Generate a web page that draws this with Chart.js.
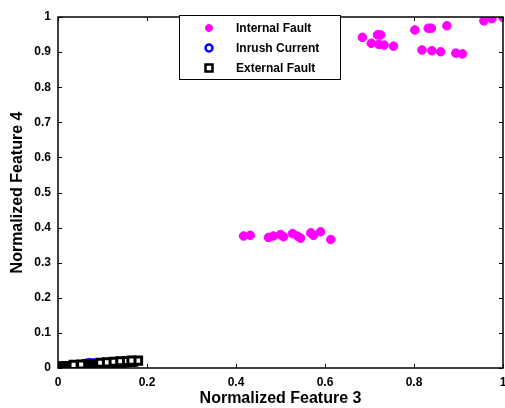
<!DOCTYPE html>
<html>
<head>
<meta charset="utf-8">
<script src="https://cdn.jsdelivr.net/npm/chart.js@4.4.1/dist/chart.umd.min.js"></script>
<style>
  html, body { margin: 0; padding: 0; background: #fff; }
  #wrap { width: 505px; height: 408px; }
</style>
</head>
<body>
<div id="wrap"><canvas id="scatterChart" width="505" height="408"></canvas></div>
<script>
// Series values
const internalX = [0.417, 0.432, 0.473, 0.484, 0.50, 0.507, 0.527, 0.538, 0.545, 0.568, 0.574, 0.59, 0.613,
    0.684, 0.704, 0.718, 0.721, 0.725, 0.733, 0.754, 0.802, 0.818, 0.832, 0.839, 0.840, 0.860, 0.874, 0.894, 0.909, 0.957, 0.975, 1.0];
const internalY = [0.376, 0.378, 0.372, 0.376, 0.380, 0.374, 0.383, 0.376, 0.370, 0.385, 0.378, 0.388, 0.366,
    0.942, 0.925, 0.949, 0.922, 0.949, 0.920, 0.917, 0.963, 0.906, 0.968, 0.968, 0.904, 0.901, 0.975, 0.897, 0.895, 0.989, 0.995, 0.999];

const inrushX = [0.0, 0.004, 0.022, 0.03, 0.045, 0.058, 0.066, 0.072, 0.08, 0.086];
const inrushY = [0.004, 0.005, 0.006, 0.006, 0.007, 0.012, 0.014, 0.015, 0.014, 0.013];

const externalX = [0.0, 0.004, 0.008, 0.012, 0.017, 0.022, 0.026, 0.031, 0.036, 0.04, 0.045, 0.05, 0.055, 0.06,
    0.064, 0.069, 0.074, 0.079, 0.084, 0.089, 0.094, 0.099, 0.104, 0.109, 0.114, 0.119, 0.124, 0.129,
    0.134, 0.139, 0.144, 0.149, 0.154, 0.159, 0.164, 0.169, 0.18,
    0.035, 0.052, 0.095, 0.11, 0.125, 0.14, 0.155, 0.165];
const externalY = [0.003, 0.004, 0.003, 0.004, 0.005, 0.004, 0.005, 0.005, 0.006, 0.005, 0.006, 0.007, 0.006, 0.007,
    0.008, 0.008, 0.009, 0.009, 0.010, 0.010, 0.011, 0.011, 0.012, 0.012, 0.013, 0.013, 0.014, 0.014,
    0.015, 0.015, 0.016, 0.016, 0.017, 0.017, 0.018, 0.018, 0.021,
    0.009, 0.010, 0.015, 0.016, 0.018, 0.019, 0.020, 0.021];

const xTicks = [0, 0.2, 0.4, 0.6, 0.8, 1];
const yTicks = [0, 0.1, 0.2, 0.3, 0.4, 0.5, 0.6, 0.7, 0.8, 0.9, 1];
const legendLabels = ['Internal Fault', 'Inrush Current', 'External Fault'];

const FONT = "'Liberation Sans', Arial, sans-serif";

function toPoints(xs, ys) {
    return xs.map((x, i) => ({ x: x, y: ys[i] }));
}

function tickText(v) {
    return String(+Number(v).toFixed(1));
}

// Frame, inward ticks and boxed legend drawn on top of the chart area
const framePlugin = {
    id: 'frame',
    afterDraw(chart) {
        const ctx = chart.ctx;
        const a = chart.chartArea;
        const xs = chart.scales.x;
        const ys = chart.scales.y;
        ctx.save();
        ctx.strokeStyle = '#000';
        ctx.lineWidth = 1.5;
        ctx.strokeRect(a.left, a.top, a.right - a.left, a.bottom - a.top);
        ctx.lineWidth = 1;
        xTicks.forEach(v => {
            const px = Math.round(xs.getPixelForValue(v)) + 0.5;
            ctx.beginPath();
            ctx.moveTo(px, a.bottom); ctx.lineTo(px, a.bottom - 4);
            ctx.moveTo(px, a.top); ctx.lineTo(px, a.top + 4);
            ctx.stroke();
        });
        yTicks.forEach(v => {
            const py = Math.round(ys.getPixelForValue(v)) + 0.5;
            ctx.beginPath();
            ctx.moveTo(a.left, py); ctx.lineTo(a.left + 4, py);
            ctx.moveTo(a.right, py); ctx.lineTo(a.right - 4, py);
            ctx.stroke();
        });

        // legend box
        const bx = 179, by = 15, bw = 161, bh = 64;
        ctx.fillStyle = '#fff';
        ctx.fillRect(bx, by, bw, bh);
        ctx.lineWidth = 1;
        ctx.strokeRect(bx + 0.5, by + 0.5, bw, bh);
        const rows = [28, 48, 68];
        ctx.font = 'bold 12px ' + FONT;
        ctx.textBaseline = 'middle';
        ctx.textAlign = 'left';
        chart.data.datasets.forEach((ds, i) => {
            const y = rows[i];
            const mx = 209;
            ctx.lineWidth = ds.pointStyle === 'rect' ? 2.5 : ds.borderWidth;
            ctx.strokeStyle = ds.borderColor;
            ctx.fillStyle = ds.backgroundColor;
            ctx.beginPath();
            if (ds.pointStyle === 'rect') {
                ctx.rect(mx - 3.5, y - 3.5, 7, 7);
            } else {
                ctx.arc(mx, y, 3.5, 0, Math.PI * 2);
            }
            ctx.fill();
            ctx.stroke();
            ctx.fillStyle = '#000';
            ctx.fillText(legendLabels[i], 236, y + 1);
        });
        ctx.restore();
    }
};

const ctx = document.getElementById('scatterChart').getContext('2d');
const scatterChart = new Chart(ctx, {
    type: 'scatter',
    data: {
        datasets: [
            {
                label: legendLabels[0],
                data: toPoints(internalX, internalY),
                pointStyle: 'circle',
                pointRadius: 4.3,
                backgroundColor: '#ff00ff',
                borderColor: '#ff00ff',
                borderWidth: 1,
                order: 2
            },
            {
                label: legendLabels[1],
                data: toPoints(inrushX, inrushY),
                pointStyle: 'circle',
                pointRadius: 3.5,
                backgroundColor: '#ffffff',
                borderColor: '#0000ff',
                borderWidth: 2.5,
                order: 1
            },
            {
                label: legendLabels[2],
                data: toPoints(externalX, externalY),
                pointStyle: 'rect',
                pointRadius: 5,
                backgroundColor: '#ffffff',
                borderColor: '#000000',
                borderWidth: 3,
                order: 0
            }
        ]
    },
    options: {
        responsive: false,
        animation: false,
        layout: { autoPadding: false, padding: { top: 17, right: 2, left: 0, bottom: 0 } },
        plugins: {
            legend: { display: false },
            tooltip: { enabled: false }
        },
        scales: {
            x: {
                type: 'linear',
                min: 0,
                max: 1,
                afterBuildTicks: (scale) => { scale.ticks = xTicks.map(v => ({ value: v })); },
                afterFit: (scale) => {
                    scale.height = 40;
                    scale.paddingLeft = 0;
                    scale.paddingRight = 0;
                },
                grid: { display: false, drawTicks: false },
                border: { display: false },
                ticks: {
                    color: '#000',
                    padding: 7,
                    maxRotation: 0,
                    callback: tickText,
                    font: { family: FONT, size: 12, weight: 'bold' }
                },
                title: {
                    display: true,
                    text: 'Normalized Feature 3',
                    color: '#000',
                    padding: { top: 2, bottom: 0 },
                    font: { family: FONT, size: 16, weight: 'bold' }
                }
            },
            y: {
                type: 'linear',
                min: 0,
                max: 1,
                afterBuildTicks: (scale) => { scale.ticks = yTicks.map(v => ({ value: v })); },
                afterFit: (scale) => {
                    scale.width = 58;
                    scale.paddingTop = 0;
                    scale.paddingBottom = 0;
                },
                grid: { display: false, drawTicks: false },
                border: { display: false },
                ticks: {
                    color: '#000',
                    padding: 7,
                    callback: tickText,
                    font: { family: FONT, size: 12, weight: 'bold' }
                },
                title: {
                    display: true,
                    text: 'Normalized Feature 4',
                    color: '#000',
                    padding: { top: 8, bottom: 0 },
                    font: { family: FONT, size: 16, weight: 'bold' }
                }
            }
        }
    },
    plugins: [framePlugin]
});
</script>
</body>
</html>
